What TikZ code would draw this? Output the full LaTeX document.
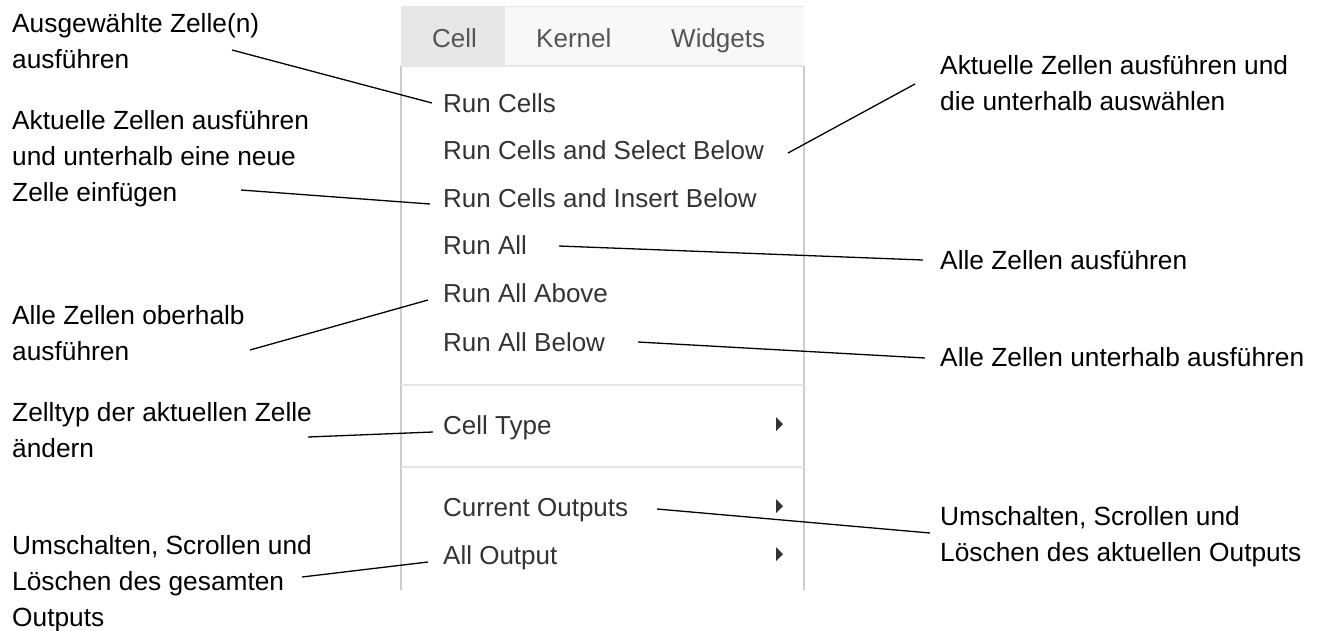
\documentclass[tikz,border=0pt]{standalone}
\usepackage{fontspec}
\setmainfont{Liberation Sans}
\definecolor{menutext}{HTML}{333333}
\definecolor{bartext}{HTML}{555555}
\definecolor{barbg}{HTML}{F8F8F8}
\definecolor{tabbg}{HTML}{E7E7E7}
\definecolor{sepgray}{HTML}{E5E5E5}
\definecolor{bordergray}{HTML}{CCCCCC}
\begin{document}
\begin{tikzpicture}[x=1pt,y=-1pt,
  ann/.style={anchor=north west, inner sep=0pt, align=left, font=\fontsize{26.3}{36}\selectfont, text=black},
  item/.style={anchor=base west, inner sep=0pt, font=\fontsize{26}{30}\selectfont, text=menutext},
  bartab/.style={anchor=base west, inner sep=0pt, font=\fontsize{26}{30}\selectfont, text=bartext},
  conn/.style={line width=1.3pt, draw=black},
  sepline/.style={draw=sepgray, line width=2pt},
  borderline/.style={draw=bordergray, line width=1.5pt},
  caret/.style={fill=menutext, draw=none}]
\useasboundingbox (0,0) rectangle (1331,630);
% menu bar
\fill[barbg] (401,6) rectangle (804,66);
\fill[tabbg] (401,6) rectangle (505,66);
\draw[draw=sepgray, line width=1pt] (401,6) -- (804,6);
\draw[draw=tabbg, line width=1.5pt] (401,66) -- (804,66);
\node[bartab] (tcell) at (432,47) {Cell};
\node[bartab] (tkernel) at (536,47) {Kernel};
\node[bartab] (twidgets) at (671,47) {Widgets};
% menu body borders
\draw[borderline] (401,66) -- (401,590);
\draw[borderline] (804,66) -- (804,590);
\draw[sepline] (401,385) -- (804,385);
\draw[sepline] (401,467) -- (804,467);
% menu items
\node[item] (m1) at (443,112) {Run Cells};
\node[item] (m2) at (443,159) {Run Cells and Select Below};
\node[item] (m3) at (443,207) {Run Cells and Insert Below};
\node[item] (m4) at (443,254) {Run All};
\node[item] (m5) at (443,302) {Run All Above};
\node[item] (m6) at (443,351) {Run All Below};
\node[item] (m7) at (443,434) {Cell Type};
\node[item] (m8) at (443,516) {Current Outputs};
\node[item] (m9) at (443,564) {All Output};
% carets
\fill[caret] (776,417) -- (776,431) -- (783,424) -- cycle;
\fill[caret] (776,499) -- (776,513) -- (783,506) -- cycle;
\fill[caret] (776,547) -- (776,561) -- (783,554) -- cycle;
% left annotations
\node[ann] (a1) at (12,13) {Ausgewählte Zelle(n)\\ausführen};
\node[ann] (a2) at (12,110) {Aktuelle Zellen ausführen\\und unterhalb eine neue\\Zelle einfügen};
\node[ann] (a3) at (12,305) {Alle Zellen oberhalb\\ausführen};
\node[ann] (a4) at (12,402) {Zelltyp der aktuellen Zelle\\ändern};
\node[ann] (a5) at (12,535) {Umschalten, Scrollen und\\Löschen des gesamten\\Outputs};
% right annotations
\node[ann] (b1) at (940,55) {Aktuelle Zellen ausführen und\\die unterhalb auswählen};
\node[ann] (b2) at (940,250) {Alle Zellen ausführen};
\node[ann] (b3) at (940,347) {Alle Zellen unterhalb ausführen};
\node[ann] (b4) at (940,506) {Umschalten, Scrollen und\\Löschen des aktuellen Outputs};
% connector end points
\coordinate (pa1) at (232,50);  \coordinate (qa1) at (432,103);
\coordinate (pa2) at (241,190); \coordinate (qa2) at (430,204);
\coordinate (pa3) at (250,350); \coordinate (qa3) at (428,300);
\coordinate (pa4) at (308,437); \coordinate (qa4) at (433,432);
\coordinate (pa5) at (302,577); \coordinate (qa5) at (428,562);
\coordinate (qb1) at (788,153); \coordinate (pb1) at (915,84);
\coordinate (qb2) at (559,246); \coordinate (pb2) at (923,260);
\coordinate (qb3) at (638,342); \coordinate (pb3) at (925,358);
\coordinate (qb4) at (657,509); \coordinate (pb4) at (930,533);
% connectors
\draw[conn] (pa1) -- (qa1);
\draw[conn] (pa2) -- (qa2);
\draw[conn] (pa3) -- (qa3);
\draw[conn] (pa4) -- (qa4);
\draw[conn] (pa5) -- (qa5);
\draw[conn] (qb1) -- (pb1);
\draw[conn] (qb2) -- (pb2);
\draw[conn] (qb3) -- (pb3);
\draw[conn] (qb4) -- (pb4);
\end{tikzpicture}
\end{document}
